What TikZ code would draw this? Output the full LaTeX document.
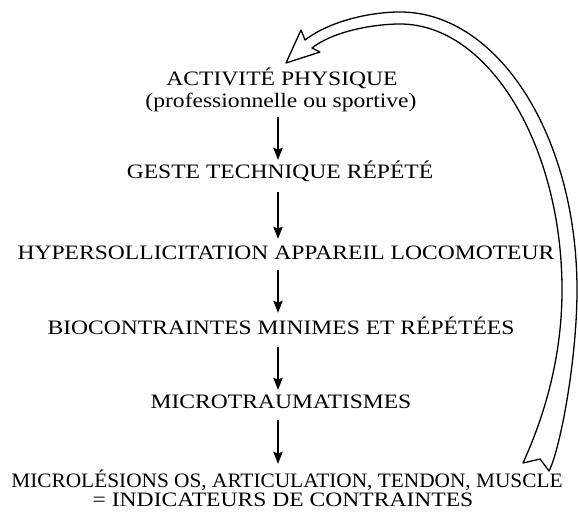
\documentclass[tikz,border=0pt]{standalone}
\usepackage{fontspec}
\setmainfont{Liberation Serif}[FakeStretch=1.15]
\newfontfamily\narrowserif{Liberation Serif}[FakeStretch=1.04]
\usetikzlibrary{arrows.meta}
\begin{document}
\begin{tikzpicture}[x=1bp,y=-1bp,
  lbl/.style={anchor=base,inner sep=0pt,font=\fontsize{20.5bp}{24bp}\selectfont},
  flow/.style={line width=2.4bp,-{Stealth[length=12bp,width=9bp,inset=1.5bp]}},
  hollow/.style={line width=1.3bp,line join=round,fill=white}]
\useasboundingbox (0,0) rectangle (578,512);
\coordinate (ax) at (278,0);
\node[lbl] (act1) at (282,86) {ACTIVITÉ PHYSIQUE};
\node[lbl] (act2) at (281,108) {(professionnelle ou sportive)};
\node[lbl] (geste) at (280,179) {GESTE TECHNIQUE RÉPÉTÉ};
\node[lbl] (hyper) at (286,259) {HYPERSOLLICITATION APPAREIL LOCOMOTEUR};
\node[lbl] (bio) at (281,334) {BIOCONTRAINTES MINIMES ET RÉPÉTÉES};
\node[lbl] (micro) at (281,408) {MICROTRAUMATISMES};
\node[lbl,font=\narrowserif\fontsize{20.5bp}{24bp}\selectfont] (les1) at (287,487) {MICROLÉSIONS OS, ARTICULATION, TENDON, MUSCLE};
\node[lbl] (les2) at (283,506) {= INDICATEURS DE CONTRAINTES};
\draw[flow] ([yshift=-9bp]ax |- act2.base) -- ([yshift=19bp]ax |- geste.base);
\draw[flow] ([yshift=-13bp]ax |- geste.base) -- ([yshift=20bp]ax |- hyper.base);
\draw[flow] ([yshift=-11bp]ax |- hyper.base) -- ([yshift=21bp]ax |- bio.base);
\draw[flow] ([yshift=-13bp]ax |- bio.base) -- ([yshift=18bp]ax |- micro.base);
\draw[flow] ([yshift=-12bp]ax |- micro.base) -- ([yshift=23bp]ax |- les1.base);
% feedback hollow arrow
\coordinate (T) at (286,63);
\coordinate (B1) at (301,30);
\coordinate (J1) at (305,40);
\coordinate (J2) at (312,48);
\coordinate (B2) at (320,52);
\coordinate (R) at (549,471);
\coordinate (N) at (540,459);
\coordinate (L) at (523,463);
\draw[hollow] (T) -- (B1) -- (J1)
  .. controls (330,21) and (370,12) .. (400,12)
  .. controls (498,12) and (577,136) .. (577,290)
  .. controls (577,360) and (560,450) .. (R)
  -- (N) -- (L)
  .. controls (537,432) and (562,370) .. (562,290)
  .. controls (562,146) and (489,24) .. (400,24)
  .. controls (372,24) and (332,32) .. (J2)
  -- (B2) -- cycle;
\end{tikzpicture}
\end{document}
